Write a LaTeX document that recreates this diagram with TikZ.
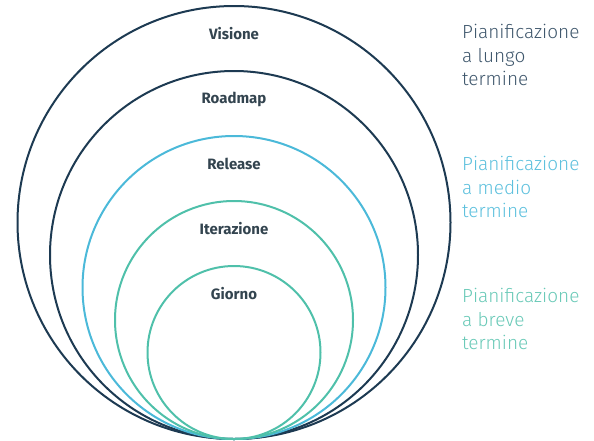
\documentclass[tikz,border=0pt]{standalone}
\usepackage{fontspec}
\setmainfont{Fira Sans}
\newfontfamily\lightfont{Fira Sans Light}
\definecolor{navy}{HTML}{1D3A52}
\definecolor{azure}{HTML}{4BB9D9}
\definecolor{teal}{HTML}{4FC0AA}
\definecolor{labelgray}{HTML}{33444F}
\tikzset{
  ring/.style={line width=2pt},
  level/.style={font=\fontsize{15}{18}\selectfont\bfseries, text=labelgray, inner sep=0pt},
  horizon/.style={font=\lightfont\fontsize{19}{23.5}\selectfont, align=left, anchor=west, inner sep=0pt}
}
\begin{document}
\begin{tikzpicture}[x=1pt,y=-1pt]
    \useasboundingbox (0,0) rectangle (594,440);
    % nested rings, all touching at the bottom
    \foreach \r/\col/\txt/\nm in {216.5/navy/Visione/vis, 184/navy/Roadmap/road,
        151.5/azure/Release/rel, 119/teal/Iterazione/iter, 86.5/teal/Giorno/day}{
        \draw [ring,\col] (234,439-\r) circle (\r pt);
        \node [level] (\nm) at (234,439-2*\r+28) {\txt};
    }

    \node [horizon,text=navy!85] (lungo) at (462,55) {Pianificazione\\a lungo\\termine};
    \node [horizon,text=azure!90] (medio) at (462,187) {Pianificazione\\a medio\\termine};
    \node [horizon,text=teal!85] (breve) at (462,319) {Pianificazione\\a breve\\termine};
\end{tikzpicture}
\end{document}
